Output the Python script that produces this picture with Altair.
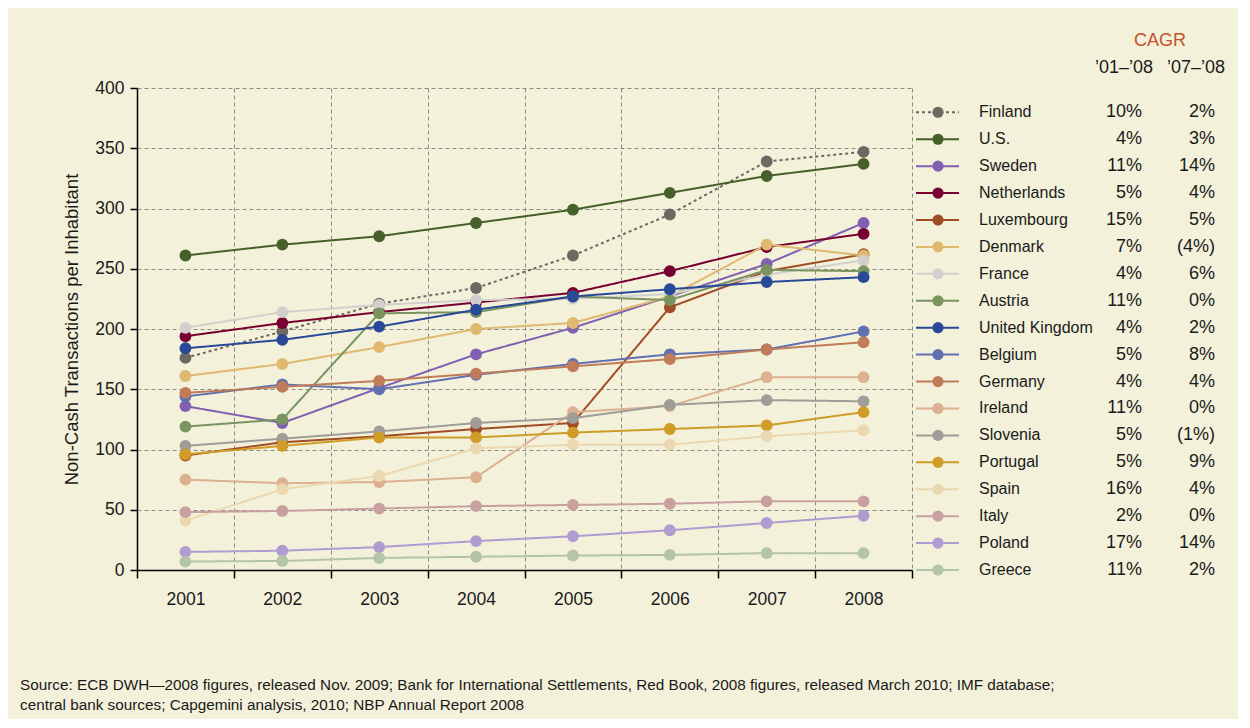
import altair as alt
import pandas as pd

years = ["2001", "2002", "2003", "2004", "2005", "2006", "2007", "2008"]

countries = ["Finland", "U.S.", "Sweden", "Netherlands", "Luxembourg", "Denmark",
             "France", "Austria", "United Kingdom", "Belgium", "Germany", "Ireland",
             "Slovenia", "Portugal", "Spain", "Italy", "Poland", "Greece"]

colors = ["#6e6862", "#46602a", "#8060b0", "#780030", "#a04c24", "#e0b870",
          "#d2d0cc", "#7a9460", "#284898", "#6070b0", "#c07c58", "#dcb090",
          "#a09c98", "#d09c28", "#ecd8b0", "#c8a0a0", "#b09cd0", "#b4c4a8"]

finland = [176, 198, 221, 234, 261, 295, 339, 347]
us = [261, 270, 277, 288, 299, 313, 327, 337]
sweden = [136, 122, 151, 179, 201, 227, 254, 288]
netherlands = [194, 205, 214, 222, 230, 248, 268, 279]
luxembourg = [95, 106, 111, 117, 122, 218, 248, 262]
denmark = [161, 171, 185, 200, 205, 227, 270, 261]
france = [201, 214, 220, 224, 225, 229, 245, 257]
austria = [119, 125, 213, 214, 227, 224, 249, 248]
uk = [184, 191, 202, 216, 227, 233, 239, 243]
belgium = [144, 154, 150, 162, 171, 179, 183, 198]
germany = [147, 152, 157, 163, 169, 175, 183, 189]
ireland = [75, 72, 73, 77, 131, 136, 160, 160]
slovenia = [103, 109, 115, 122, 126, 137, 141, 140]
portugal = [96, 103, 110, 110, 114, 117, 120, 131]
spain = [41, 67, 78, 101, 104, 104, 111, 116]
italy = [48, 49, 51, 53, 54, 55, 57, 57]
poland = [15, 16, 19, 24, 28, 33, 39, 45]
greece = [7, 7.5, 10, 11, 12, 12.5, 14, 14]

series = [finland, us, sweden, netherlands, luxembourg, denmark, france, austria,
          uk, belgium, germany, ireland, slovenia, portugal, spain, italy, poland, greece]

cagr_01_08 = ["10%", "4%", "11%", "5%", "15%", "7%", "4%", "11%", "4%", "5%",
              "4%", "11%", "5%", "5%", "16%", "2%", "17%", "11%"]
cagr_07_08 = ["2%", "3%", "14%", "4%", "5%", "(4%)", "6%", "0%", "2%", "8%",
              "4%", "0%", "(1%)", "9%", "4%", "0%", "14%", "2%"]

source_text = ("Source: ECB DWH\u20142008 figures, released Nov. 2009; Bank for International Settlements, "
               "Red Book, 2008 figures, released March 2010; IMF database;\n"
               "central bank sources; Capgemini analysis, 2010; NBP Annual Report 2008")

FONT = "Liberation Sans"
TXT = "#1a1a1a"

rows = []
for c, vals in zip(countries, series):
    for y, v in zip(years, vals):
        rows.append({"country": c, "year": y, "value": v})
df = pd.DataFrame(rows)

leg = pd.DataFrame({"country": countries, "c1": cagr_01_08, "c2": cagr_07_08})

dashes = [[3, 3]] + [[1, 0]] * (len(countries) - 1)

color_enc = alt.Color("country:N", scale=alt.Scale(domain=countries, range=colors), legend=None)
dash_enc = alt.StrokeDash("country:N", scale=alt.Scale(domain=countries, range=dashes), legend=None)

x_enc = alt.X("year:O", scale=alt.Scale(type="band", paddingInner=0, paddingOuter=0),
              axis=alt.Axis(title=None, labelAngle=0, tickBand="extent", grid=True,
                            gridDash=[4, 3], gridColor="#8a8a86", gridWidth=1,
                            domainColor="#000", domainWidth=1.5, tickColor="#000",
                            tickWidth=1.5, tickSize=8, labelFontSize=17.5, labelPadding=12,
                            labelColor=TXT, labelFont=FONT))
y_enc = alt.Y("value:Q", scale=alt.Scale(domain=[0, 400], nice=False),
              axis=alt.Axis(title="Non-Cash Transactions per Inhabitant", values=list(range(0, 401, 50)),
                            grid=True, gridDash=[4, 3], gridColor="#8a8a86", gridWidth=1,
                            domainColor="#000", domainWidth=1.5, tickColor="#000", tickWidth=1.5,
                            tickSize=7, labelFontSize=17.5, labelPadding=6, labelColor=TXT,
                            labelFont=FONT, titleFont=FONT, titleFontSize=18.5,
                            titleFontWeight="normal", titleColor=TXT, titlePadding=13))

lines = alt.Chart(df).mark_line(strokeWidth=2).encode(
    x=x_enc, y=y_enc, color=color_enc, strokeDash=dash_enc, detail="country:N")
points = alt.Chart(df).mark_circle(size=140, opacity=1).encode(
    x=x_enc, y="value:Q", color=color_enc)
main = alt.layer(lines, points)

ly = alt.Y("country:N", sort=countries,
           scale=alt.Scale(type="point", domain=countries, range=[24.3, 482], padding=0),
           axis=None)

lrule = alt.Chart(leg).mark_rule(strokeWidth=2).encode(
    x=alt.value(779), x2=alt.value(822), y=ly, color=color_enc, strokeDash=dash_enc)
lpts = alt.Chart(leg).mark_circle(size=125, opacity=1).encode(
    x=alt.value(801), y=ly, color=color_enc)
lnames = alt.Chart(leg).mark_text(align="left", baseline="middle", fontSize=16, font=FONT,
                                  color=TXT).encode(x=alt.value(842), y=ly, text="country:N")
lc1 = alt.Chart(leg).mark_text(align="right", baseline="middle", fontSize=18, font=FONT,
                               color=TXT).encode(x=alt.value(1005), y=ly, text="c1:N")
lc2 = alt.Chart(leg).mark_text(align="right", baseline="middle", fontSize=18, font=FONT,
                               color=TXT).encode(x=alt.value(1078), y=ly, text="c2:N")

one = pd.DataFrame({"k": [0]})
hdr = alt.Chart(one).mark_text(text="CAGR", align="center", baseline="middle", fontSize=18,
                               font=FONT, color="#c8502d").encode(x=alt.value(1023), y=alt.value(-47))
sub1 = alt.Chart(one).mark_text(text="\u201901\u2013\u201908", align="center", baseline="middle",
                                fontSize=18, font=FONT, color=TXT).encode(x=alt.value(987), y=alt.value(-20))
sub2 = alt.Chart(one).mark_text(text="\u201907\u2013\u201908", align="center", baseline="middle",
                                fontSize=18, font=FONT, color=TXT).encode(x=alt.value(1059), y=alt.value(-20))
foot = alt.Chart(one).mark_text(text=source_text, lineBreak="\n", lineHeight=20, align="left",
                                baseline="middle", fontSize=15.3, font=FONT, color=TXT).encode(
    x=alt.value(-117), y=alt.value(597))

legend = alt.layer(lrule, lpts, lnames, lc1, lc2, hdr, sub1, sub2, foot)

chart = alt.layer(main, legend).resolve_scale(y="independent").properties(
    width=775, height=482,
    background="#f3f1da",
    padding={"left": 12, "top": 24, "right": 12, "bottom": 5},
).configure_view(stroke=None)

chart.save("out.html", embed_options={"renderer": "svg", "actions": False})
